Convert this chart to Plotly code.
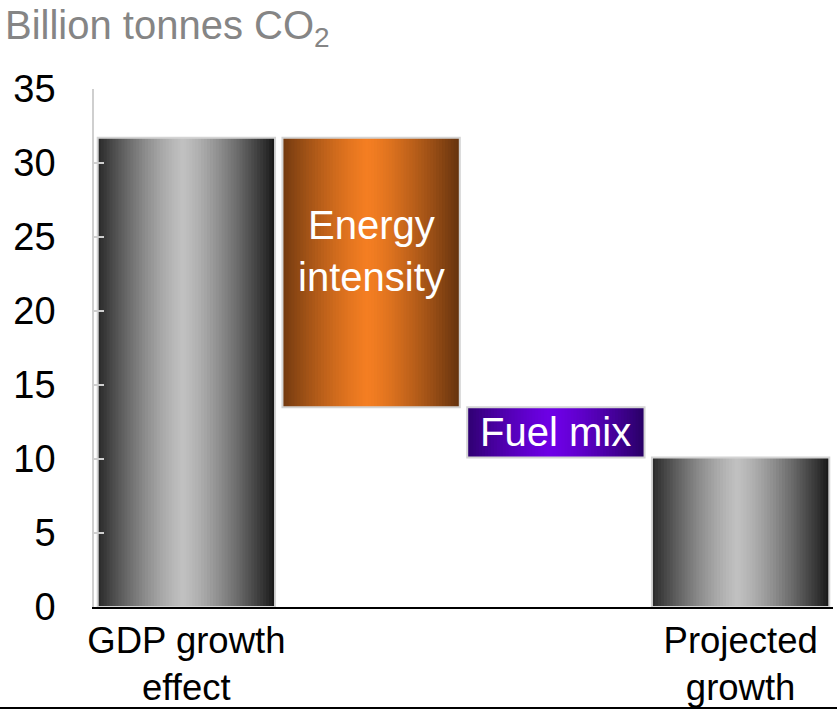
import plotly.graph_objects as go

# ---- data ----
categories = ["GDP growth effect", "Energy intensity", "Fuel mix", "Projected growth"]
bar_tops = [31.7, 31.7, 13.5, 10.1]
bar_bottoms = [0.0, 13.5, 10.1, 0.0]
tick_labels = ["GDP growth<br>effect", "", "", "Projected<br>growth"]
inner_labels = ["", "Energy<br>intensity", "Fuel mix", ""]
y_ticks = [0, 5, 10, 15, 20, 25, 30, 35]

# ---- style ----
edge_colors = [(24, 24, 24), (100, 50, 14), (40, 0, 100), (24, 24, 24)]
mid_colors = [(192, 192, 192), (244, 126, 34), (110, 0, 230), (192, 192, 192)]
label_shift = [0, 22, 0, 0]
BAR_W = 0.96
N = 60
FONT = "Liberation Sans, Arial, sans-serif"

def grad(c_edge, c_mid, t):
    d = abs(t - 0.48) / 0.52
    d = min(1.0, d) ** 1.3
    return "rgb(%d,%d,%d)" % tuple(int(round(m + (e - m) * d)) for e, m in zip(c_edge, c_mid))

xs = list(range(len(categories)))
heights = [t - b for t, b in zip(bar_tops, bar_bottoms)]

fig = go.Figure()
sw = BAR_W / N
for j in range(N):
    t = (j + 0.5) / N
    w = sw * 1.6 if j < N - 1 else sw
    fig.add_trace(go.Bar(
        x=xs, y=heights, base=bar_bottoms,
        width=[w] * len(xs), offset=[-BAR_W / 2 + j * sw] * len(xs),
        marker=dict(color=[grad(edge_colors[i], mid_colors[i], t) for i in xs], line=dict(width=0)),
        hoverinfo="skip", showlegend=False,
    ))
fig.add_trace(go.Bar(
    x=xs, y=heights, base=bar_bottoms, width=[BAR_W] * len(xs),
    marker=dict(color="rgba(0,0,0,0)", line=dict(color="#d4d4d4", width=2)),
    hovertext=categories, showlegend=False,
))

annotations = []
for i in xs:
    if inner_labels[i]:
        annotations.append(dict(
            x=i, y=(bar_tops[i] + bar_bottoms[i]) / 2, xref="x", yref="y",
            text=inner_labels[i], showarrow=False, yshift=label_shift[i],
            font=dict(color="white", size=40, family=FONT),
        ))

tick_idx = [i for i in xs if tick_labels[i]]

fig.update_layout(
    width=837, height=710,
    barmode="overlay",
    plot_bgcolor="white", paper_bgcolor="white",
    margin=dict(l=94, r=4, t=89, b=103, autoexpand=False),
    font=dict(family=FONT, color="black"),
    title=dict(text="Billion tonnes CO<sub>2</sub>", x=0.006, xanchor="left",
               y=0.985, yanchor="top", font=dict(size=40, color="#858585", family=FONT)),
    xaxis=dict(range=[-0.5, 3.5], tickvals=tick_idx, ticktext=[tick_labels[i] for i in tick_idx],
               showgrid=False, showline=True, linecolor="black", linewidth=1.5, ticks="",
               tickfont=dict(size=36.5, color="black"), zeroline=False, automargin=False),
    yaxis=dict(range=[0, 35], tickvals=y_ticks, showgrid=False, zeroline=False,
               showline=True, linecolor="#cfcfcf", linewidth=1.5,
               ticks="inside", ticklen=10, tickcolor="#cfcfcf", tickwidth=1.5,
               ticklabelstandoff=29, tickfont=dict(size=38, color="black"), automargin=False),
    annotations=annotations,
    shapes=[dict(type="line", xref="paper", yref="paper", x0=-0.2, x1=1.1,
                 y0=-101 / 518, y1=-101 / 518, line=dict(color="black", width=2))],
)

fig.write_html("out.html", config={"displayModeBar": False},
               post_script="document.body.style.margin='0';document.body.style.overflow='hidden';")
